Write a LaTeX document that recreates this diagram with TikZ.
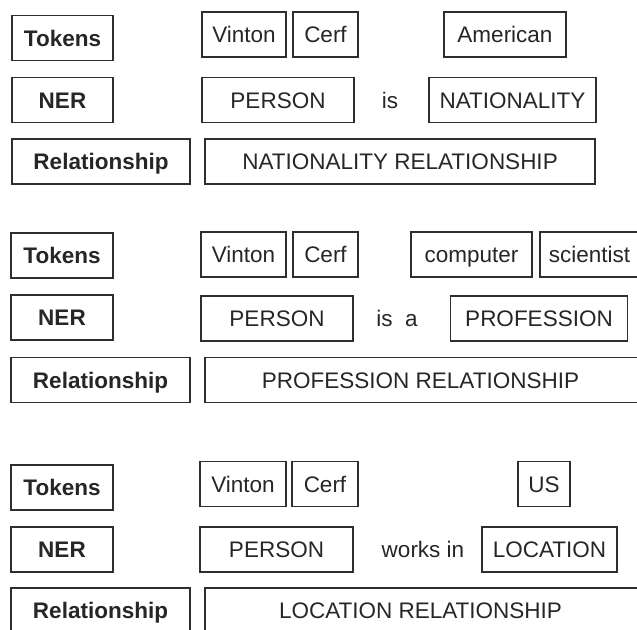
\documentclass[tikz,border=0pt]{standalone}
\usepackage{fontspec}
\setmainfont{Liberation Sans}
\begin{document}
\begin{tikzpicture}[x=1pt,y=-1pt,
  every node/.style={font=\fontsize{22.5}{25}\selectfont, text=ink, inner sep=0pt,
    text height=16.2pt, text depth=0pt},
  box/.style={draw=frame, line width=1.4pt, minimum height=45pt},
  lbl/.style={box, font=\fontsize{22.5}{25}\selectfont\bfseries},
  word/.style={}]
\definecolor{ink}{HTML}{262626}
\definecolor{frame}{HTML}{2E2E2E}
\useasboundingbox (0,0) rectangle (637,629);
\clip (0,0) rectangle (637,629);

% ---- Block 1: nationality ----
\node[lbl, minimum width=101pt] (tokA) at (62.5,38) {Tokens};
\node[lbl, minimum width=101pt] (nerA) at (62.5,100) {NER};
\node[lbl, minimum width=178pt] (relA) at (101,161.5) {Relationship};
\node[box, minimum width=84pt]  (vinA) at (244,34.5) {Vinton};
\node[box, minimum width=65pt]  (cerA) at (325.5,34.5) {Cerf};
\node[box, minimum width=122pt] (amA)  at (505,34.5) {American};
\node[box, minimum width=152pt] (perA) at (278,100) {PERSON};
\node[word] (isA) at (390,100) {is};
\node[box, minimum width=167pt] (natA) at (512.5,100) {NATIONALITY};
\node[box, minimum width=390pt] (nrA)  at (400,161.5) {NATIONALITY RELATIONSHIP};

% ---- Block 2: profession (wide boxes run past the right edge) ----
\node[lbl, minimum width=102pt] (tokB) at (62,255.5) {Tokens};
\node[lbl, minimum width=102pt] (nerB) at (62,317.5) {NER};
\node[lbl, minimum width=179pt] (relB) at (100.5,380) {Relationship};
\node[box, minimum width=85pt]  (vinB) at (243.5,254.5) {Vinton};
\node[box, minimum width=65pt]  (cerB) at (325.5,254.5) {Cerf};
\node[box, minimum width=121pt] (comB) at (471.5,254.5) {computer};
\node[box, minimum width=99pt]  (sciB) at (589.5,254.5) {scientist};
\node[box, minimum width=152pt] (perB) at (277,318.5) {PERSON};
\node[word] (isaB) at (397,318.5) {is\hspace{0.55em}a};
\node[box, minimum width=177pt] (proB) at (539,318.5) {PROFESSION};
\node[box, minimum width=440pt] (prB)  at (425,380) {PROFESSION RELATIONSHIP\hspace*{9pt}};

% ---- Block 3: location ----
\node[lbl, minimum width=102pt] (tokC) at (62,487.5) {Tokens};
\node[lbl, minimum width=102pt] (nerC) at (62,549.5) {NER};
\node[lbl, minimum width=179pt] (relC) at (100.5,610.5) {Relationship};
\node[box, minimum width=86pt]  (vinC) at (243,484) {Vinton};
\node[box, minimum width=66pt]  (cerC) at (325,484) {Cerf};
\node[box, minimum width=52pt]  (usC)  at (544,484) {US};
\node[box, minimum width=153pt] (perC) at (276.5,549.5) {PERSON};
\node[word] (wkC) at (423,549.5) {works in};
\node[box, minimum width=135pt] (locC) at (549.5,549.5) {LOCATION};
\node[box, minimum width=440pt] (lrC)  at (425,610.5) {LOCATION RELATIONSHIP\hspace*{9pt}};
\end{tikzpicture}
\end{document}
